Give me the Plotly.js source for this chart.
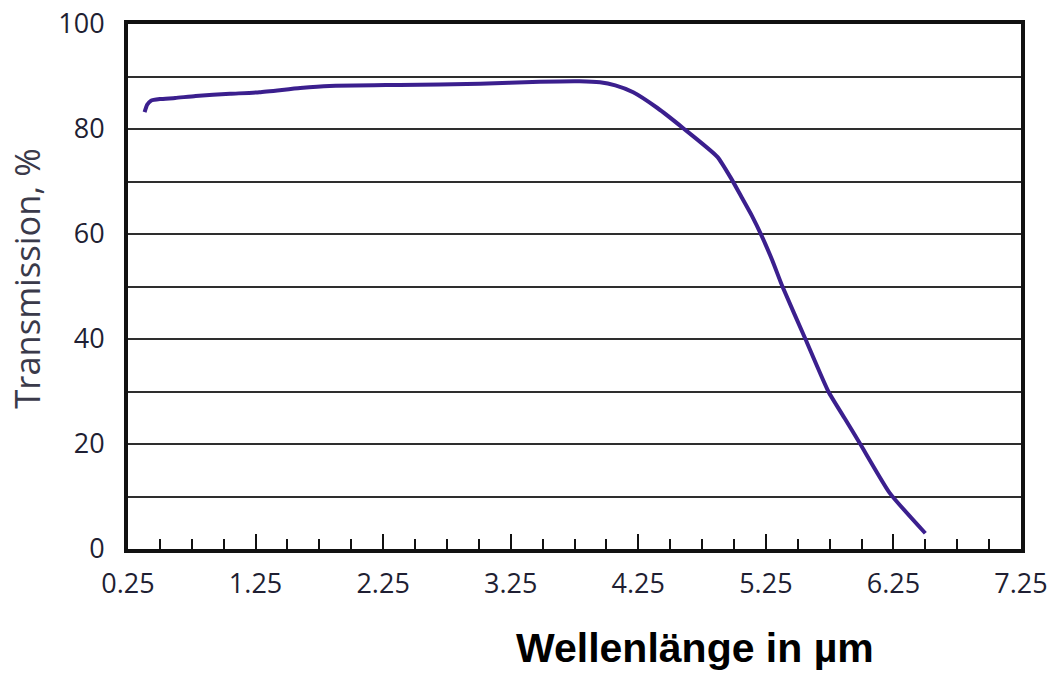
<!DOCTYPE html>
<html>
<head>
<meta charset="utf-8">
<script src="https://cdn.plot.ly/plotly-3.0.1.min.js"></script>
<style>html,body{margin:0;padding:0;background:#fff;}#chart{width:1053px;height:673px;}</style>
</head>
<body>
<div id="chart"></div>
<script>
// Wavelength (µm) and transmission (%)
const wavelength = [0.38, 0.40, 0.43, 0.50, 0.62, 0.78, 1.05, 1.28, 1.60, 1.83, 2.38, 3.01, 3.48, 3.79, 3.95, 4.07, 4.21, 4.40, 4.60, 4.87, 4.98, 5.06, 5.14, 5.22, 5.30, 5.38, 5.56, 5.74, 5.87, 5.99, 6.22, 6.50];
const transmission = [83.2, 84.6, 85.4, 85.7, 85.9, 86.3, 86.7, 87.0, 87.8, 88.2, 88.4, 88.6, 89.0, 89.1, 88.9, 88.3, 87.0, 84.0, 80.2, 74.7, 70.5, 67.0, 63.5, 59.5, 55.0, 50.0, 40.0, 30.0, 24.8, 20.0, 10.7, 3.0];

const xTickVals = [0.25, 1.25, 2.25, 3.25, 4.25, 5.25, 6.25, 7.25];
const xTickText = ['0.25', '1.25', '2.25', '3.25', '4.25', '5.25', '6.25', '7.25'];
const yTickVals = [0, 10, 20, 30, 40, 50, 60, 70, 80, 90, 100];
const yTickText = ['0', '', '20', '', '40', '', '60', '', '80', '', '100'];

const xTitle = 'Wellenlänge in µm';
const yTitle = 'Transmission, %';

const tickFont = {family: 'Open Sans, sans-serif', size: 27, color: '#1f1f33'};

const trace = {
  x: wavelength,
  y: transmission,
  type: 'scatter',
  mode: 'lines',
  line: {color: '#3b1f8e', width: 4, shape: 'spline', smoothing: 0.5},
  hoverinfo: 'skip'
};

const layout = {
  width: 1053,
  height: 673,
  margin: {l: 128, r: 32, t: 24, b: 124},
  paper_bgcolor: '#ffffff',
  plot_bgcolor: '#ffffff',
  showlegend: false,
  xaxis: {
    range: [0.25, 7.25],
    tickvals: xTickVals,
    ticktext: xTickText,
    ticks: 'inside',
    ticklen: 15,
    tickwidth: 2,
    tickcolor: '#111111',
    minor: {tick0: 0.25, dtick: 0.25, ticks: 'inside', ticklen: 10, tickwidth: 2, tickcolor: '#111111', showgrid: false},
    showgrid: false,
    zeroline: false,
    showline: true,
    linecolor: '#111111',
    linewidth: 4,
    mirror: true,
    tickfont: tickFont,
    ticklabelstandoff: 8,
    fixedrange: true
  },
  yaxis: {
    range: [0, 100],
    tickvals: yTickVals,
    ticktext: yTickText,
    ticks: '',
    showgrid: true,
    gridcolor: '#2e2e2e',
    gridwidth: 2,
    zeroline: false,
    showline: true,
    linecolor: '#111111',
    linewidth: 4,
    mirror: true,
    tickfont: tickFont,
    ticklabelstandoff: 14,
    fixedrange: true
  },
  annotations: [
    {
      text: xTitle,
      xref: 'paper', yref: 'paper',
      x: 0.635, y: -0.189,
      xanchor: 'center', yanchor: 'middle',
      showarrow: false,
      font: {family: 'Liberation Sans, Arial, sans-serif', size: 41, color: '#000000', weight: 'bold'}
    },
    {
      text: yTitle,
      xref: 'paper', yref: 'paper',
      x: -0.113, y: 0.515,
      xanchor: 'center', yanchor: 'middle',
      textangle: -90,
      showarrow: false,
      font: {family: 'Open Sans, sans-serif', size: 34.5, color: '#3a3a4a'}
    }
  ]
};

Plotly.newPlot('chart', [trace], layout, {displayModeBar: false, staticPlot: true});
</script>
</body>
</html>
